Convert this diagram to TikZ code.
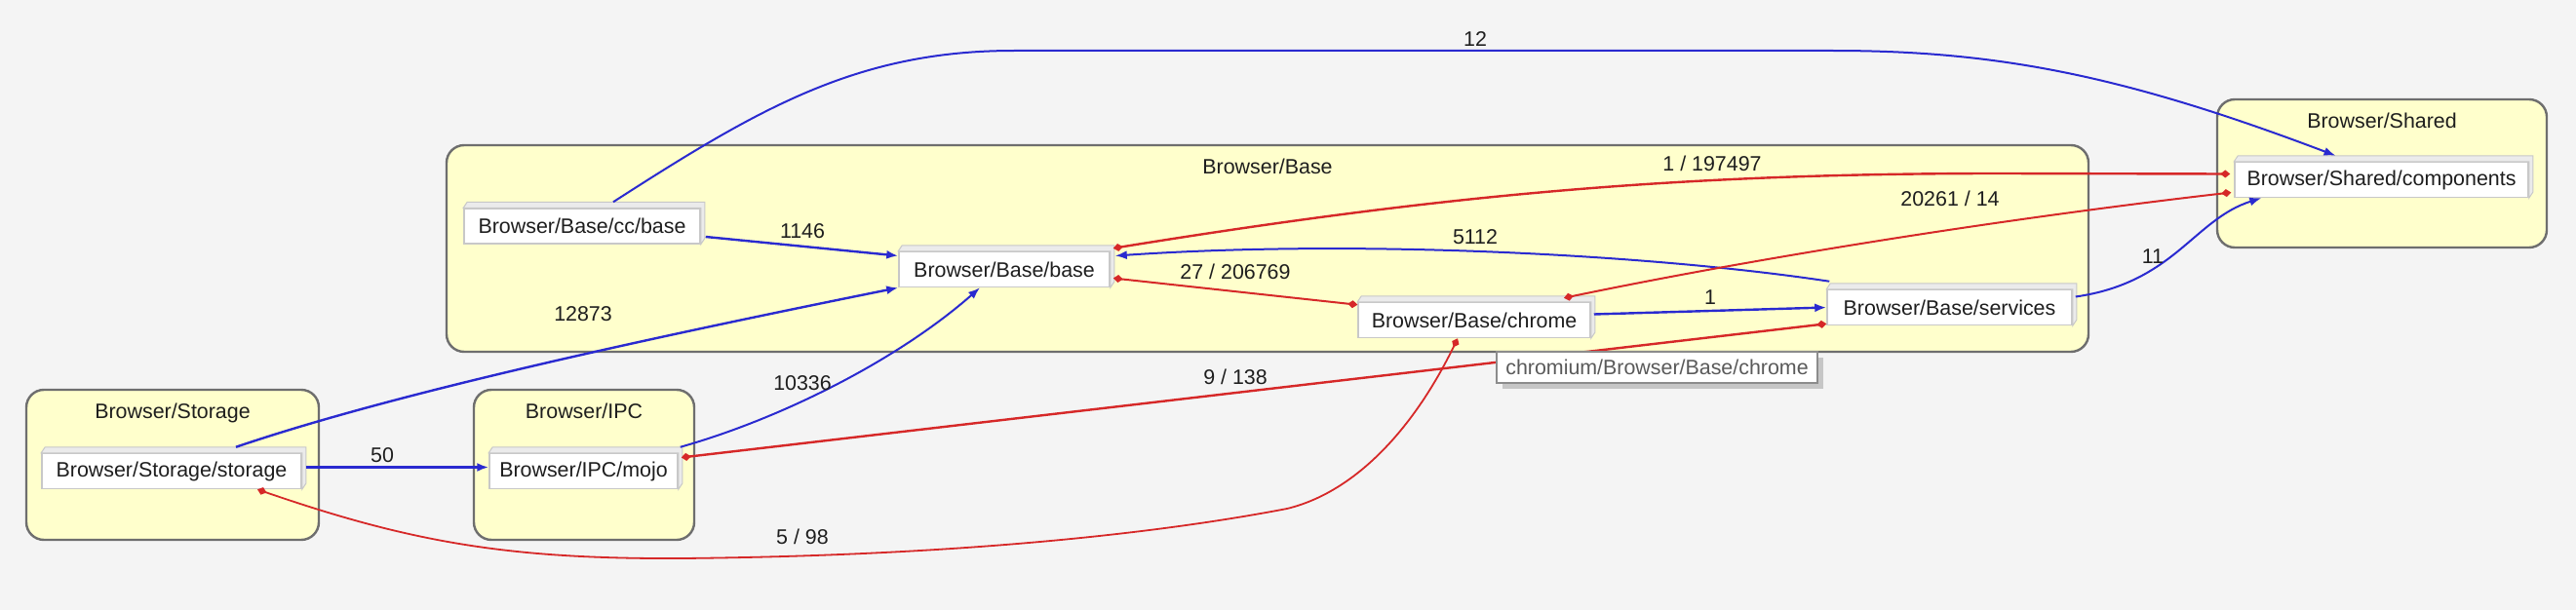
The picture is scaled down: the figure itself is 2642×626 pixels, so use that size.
\documentclass[tikz,border=0pt]{standalone}
\usepackage{fontspec}
\setmainfont{Liberation Sans}
\usetikzlibrary{arrows.meta,positioning,shadows}
\definecolor{bggray}{HTML}{F4F4F4}
\definecolor{pkgfill}{HTML}{FFFFCC}
\definecolor{pkgline}{HTML}{6E6E6E}
\definecolor{boxline}{HTML}{C8C8C8}
\definecolor{facegray}{HTML}{EBEBEB}
\definecolor{depblue}{HTML}{2A2AD0}
\definecolor{cycred}{HTML}{D62828}
\definecolor{ink}{HTML}{1E1E1E}
\definecolor{tipgray}{HTML}{5A5A5A}
\newcommand{\pfont}{\fontsize{21.4}{25}\selectfont}
\tikzset{
  pkg/.style={
    draw=pkgline, fill=pkgfill, line width=2.4pt,
    rounded corners=18pt, inner sep=0pt
  },
  pkgtitle/.style={inner sep=0pt, font=\pfont, text=ink},
  comp/.style={
    draw=boxline, fill=white, line width=1.5pt,
    minimum height=36pt, inner sep=0pt,
    font=\pfont, text=ink
  },
  face/.style={draw=boxline, fill=facegray, line width=1pt},
  lbl/.style={inner sep=0pt, font=\pfont, text=ink},
  dep/.style={-{Latex[length=12pt,width=9pt]}, line width=2pt, draw=depblue},
  cyc/.style={{Diamond[length=10pt,width=8pt]}-{Diamond[length=10pt,width=8pt]}, line width=2pt, draw=cycred},
  tooltip/.style={
    draw=black!45, fill=white, line width=2pt, inner sep=0pt,
    font=\pfont, text=tipgray,
    drop shadow={shadow xshift=6pt, shadow yshift=-6pt, fill=black!40, opacity=.5}
  }
}

\begin{document}
\begin{tikzpicture}[x=1pt,y=-1pt]
  \useasboundingbox (0,0) rectangle (2642,626);
  \fill[bggray] (0,0) rectangle (2642,626);

  % packages
  \node[pkg, minimum width=300pt, minimum height=154pt] (storagepkg) at (177,477) {};
  \node[pkg, minimum width=226pt, minimum height=154pt] (ipcpkg) at (599,477) {};
  \node[pkg, minimum width=1684pt, minimum height=212pt] (basepkg) at (1300,255) {};
  \node[pkg, minimum width=338pt, minimum height=152pt] (sharedpkg) at (2443,178) {};
  \node[pkgtitle, below=15pt of storagepkg.north] (storagettl) {Browser/Storage};
  \node[pkgtitle, below=15pt of ipcpkg.north] (ipcttl) {Browser/IPC};
  \node[pkgtitle, below=15pt of basepkg.north] (basettl) {Browser/Base};
  \node[pkgtitle, below=15pt of sharedpkg.north] (sharedttl) {Browser/Shared};

  % components
  \node[comp, minimum width=266pt] (storage) at (176,483.5) {Browser/Storage/storage};
  \node[comp, minimum width=193pt] (mojo) at (598.5,483.5) {Browser/IPC/mojo};
  \node[comp, minimum width=242pt] (ccbase) at (597,232) {Browser/Base/cc/base};
  \node[comp, minimum width=216pt] (base) at (1030,276.5) {Browser/Base/base};
  \node[comp, minimum width=238pt] (chrome) at (1512,328.5) {Browser/Base/chrome};
  \node[comp, minimum width=251pt] (services) at (1999.5,315.5) {Browser/Base/services};
  \node[comp, minimum width=301pt] (components) at (2442.5,184.5) {Browser/Shared/components};
  \foreach \n in {storage,mojo,ccbase,base,chrome,services,components}
    \draw[face] (\n.north west) -- ([xshift=4pt,yshift=6pt]\n.north west)
      -- ([xshift=4pt,yshift=6pt]\n.north east) -- ([xshift=4pt,yshift=6pt]\n.south east)
      -- (\n.south east) -- (\n.north east) -- cycle;

  % dependencies
  \draw[dep] ([xshift=32pt,yshift=6pt]ccbase.north) .. controls (780,110) and (880,52) .. (1040,52)
    -- (1880,52) .. controls (2050,52) and (2180,78) .. ([xshift=-47pt,yshift=6pt]components.north);
  \draw[dep, line width=2.4pt] ([xshift=5pt,yshift=-11pt]ccbase.east) -- ([yshift=14pt]base.west);
  \draw[dep, line width=2.4pt] ([xshift=66pt,yshift=6pt]storage.north) .. controls (400,405) and (650,350) .. (base.south west);
  \draw[dep] ([xshift=2pt,yshift=6pt]mojo.north east) .. controls (800,430) and (920,370) .. ([xshift=-25pt]base.south);
  \draw[dep, line width=3.4pt] ([xshift=4pt,yshift=4pt]storage.east) -- ([yshift=4pt]mojo.west);
  \draw[dep] ([xshift=3pt,yshift=8pt]services.north west) .. controls (1700,262) and (1400,245) .. ([xshift=5pt,yshift=14pt]base.east);
  \draw[dep, line width=2.4pt] ([xshift=3pt,yshift=6pt]chrome.east) -- (services.west);
  \draw[dep] ([xshift=3pt,yshift=11pt]services.east) .. controls (2230,290) and (2250,225) .. ([xshift=28pt]components.south west);

  % cycles
  \draw[cyc] ([xshift=3pt,yshift=-9pt]base.east) -- ([yshift=-3pt]chrome.north west);
  \draw[cyc, line width=2.4pt] ([xshift=3pt,yshift=3pt]base.north east) .. controls (1480,200) and (1720,178) .. (2050,178)
    -- ([xshift=-4pt,yshift=6pt]components.west);
  \draw[cyc] ([xshift=92pt,yshift=4pt]chrome.north) .. controls (1800,265) and (2050,225) .. ([xshift=-3pt,yshift=-13pt]components.west);
  \draw[cyc, line width=2.4pt] ([xshift=3pt,yshift=14pt]mojo.east) -- ([yshift=2pt]services.south west);
  \draw[cyc, line width=1.8pt] ([xshift=88pt]storage.south) .. controls (420,556) and (520,574) .. (700,573)
    .. controls (1000,570) and (1200,545) .. (1320,522) .. controls (1390,505) and (1450,440) .. ([xshift=-17pt]chrome.south);

  % counts
  \node[lbl] (n12) at (1513,40) {12};
  \node[lbl] (n1146) at (823,237) {1146};
  \node[lbl] (n12873) at (598,322) {12873};
  \node[lbl] (n10336) at (823,393) {10336};
  \node[lbl] (n50) at (392,467) {50};
  \node[lbl] (n27) at (1267,279) {27 / 206769};
  \node[lbl] (n9) at (1267,387) {9 / 138};
  \node[lbl] (n5) at (823,551) {5 / 98};
  \node[lbl] (n1of) at (1756,168) {1 / 197497};
  \node[lbl] (n20261) at (2000,204) {20261 / 14};
  \node[lbl] (n5112) at (1513,243) {5112};
  \node[lbl] (none) at (1754,305) {1};
  \node[lbl] (n11) at (2208,263) {11};

  \node[tooltip, minimum width=329pt, minimum height=32pt] (chrometip) at (1699.5,377) {chromium/Browser/Base/chrome};
\end{tikzpicture}
\end{document}
